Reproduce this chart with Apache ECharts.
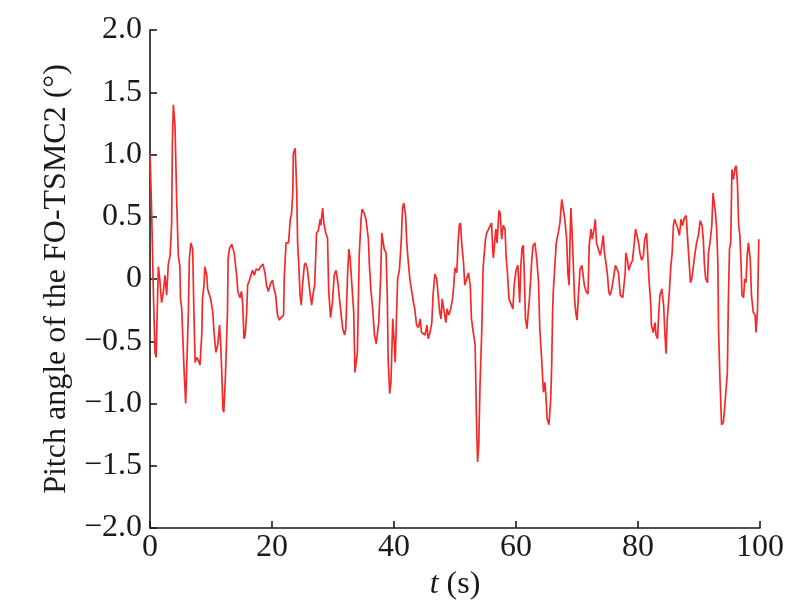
<!DOCTYPE html>
<html><head><meta charset="utf-8">
<script src="https://cdn.jsdelivr.net/npm/echarts@6/dist/echarts.min.js"></script>
<style>html,body{margin:0;padding:0;background:#fff}#c{width:805px;height:608px}</style>
</head><body><div id="c"></div>
<script>
const tSeconds = [0,0.1,0.3,0.55,0.82,1.0,1.37,1.6,1.9,2.2,2.46,2.73,3.0,3.3,3.55,3.66,3.83,4.1,4.37,4.64,4.9,5.0,5.2,5.46,5.6,5.85,6.0,6.3,6.45,6.7,7.0,7.2,7.4,7.65,7.9,8.2,8.5,8.6,8.85,9.0,9.3,9.45,9.67,9.95,10.3,10.5,10.8,11.1,11.4,11.6,11.8,11.96,12.1,12.35,12.7,12.8,13.0,13.4,13.8,14.2,14.4,14.75,15.0,15.2,15.4,15.6,15.85,16.0,16.3,16.55,16.8,17.1,17.4,17.8,18.0,18.5,18.85,19.1,19.4,
19.8,20.1,20.3,20.6,20.9,21.2,21.5,21.9,22.0,22.3,22.7,23.0,23.2,23.4,23.5,23.8,24.05,24.2,24.4,24.6,24.8,25.0,25.3,25.5,25.8,26.1,26.2,26.5,26.8,27.0,27.3,27.6,27.9,28.0,28.3,28.5,28.8,29.1,29.3,29.6,29.9,30.2,30.5,30.8,31.0,31.3,31.6,31.9,32.1,32.4,32.6,32.8,33.1,33.4,33.6,33.9,34.0,34.3,34.6,34.75,35.1,35.4,35.8,35.95,36.2,36.5,36.8,37.1,37.3,37.5,37.8,38.0,38.2,38.4,38.7,38.9,39.05,39.3,39.5,39.8,40.0,40.2,40.4,40.6,40.9,41.2,41.4,41.6,41.9,42.1,42.3,42.6,42.9,43.2,43.4,43.7,44.0,44.3,44.5,44.8,45.1,45.4,45.6,45.9,46.2,46.4,46.7,47.0,47.3,47.5,47.7,47.9,48.2,48.5,48.7,49.0,49.3,49.6,49.8,50.0,50.3,50.5,50.7,50.9,51.1,51.4,51.6,51.9,52.2,52.5,52.7,53.0,53.3,53.5,53.7,53.9,54.1,54.4,54.6,54.8,55.0,55.2,55.5,55.8,56.0,56.2,56.3,56.6,56.7,56.9,57.2,57.4,57.65,57.9,58.2,58.4,58.6,58.85,59.1,59.5,59.7,
60.0,60.3,60.6,60.8,61.0,61.2,61.4,61.55,61.8,62.0,62.2,62.4,62.6,62.8,63.1,63.4,63.7,63.9,64.2,64.5,64.75,64.9,65.1,65.4,65.7,65.85,66.0,66.1,66.4,66.6,66.8,67.0,67.2,67.5,67.8,68.0,68.3,68.5,68.7,68.9,69.0,69.2,69.4,69.6,69.8,70.0,70.2,70.5,70.8,71.0,71.2,71.5,71.8,72.0,72.3,72.5,72.8,73.0,73.2,73.5,73.8,74.0,74.3,74.5,74.8,75.0,75.2,75.4,75.7,76.0,76.3,76.5,76.8,77.1,77.5,77.9,78.0,78.25,78.5,78.8,79.1,79.35,79.6,79.8,80.1,80.3,80.6,80.9,81.1,81.4,81.6,81.8,82.1,82.2,82.5,82.8,82.95,83.2,83.4,83.6,83.9,84.2,84.4,84.6,84.8,85.1,85.4,85.6,85.8,86.0,86.2,86.5,86.8,87.05,87.3,87.6,87.9,88.1,88.35,88.6,88.8,89.1,89.3,89.6,89.9,90.2,90.5,90.7,90.9,91.1,91.4,91.55,91.8,92.1,92.3,92.5,92.7,92.9,93.1,93.2,93.45,93.7,94.0,94.2,94.4,94.65,94.8,95.0,95.2,95.4,95.65,95.9,96.1,96.3,96.5,96.7,96.9,97.05,97.3,97.5,97.7,97.9,98.1,98.4,98.6,98.9,99.2,99.35,99.6,99.8];
const pitchDeg = [1.0,0.85,0.48,-0.1,-0.59,-0.63,0.1,0,-0.19,-0.1,0.03,-0.13,0.12,0.19,0.45,1.07,1.4,1.23,0.64,0.19,0.1,-0.16,-0.24,-0.24,-0.75,-1.0,-0.75,-0.24,0.16,0.29,0.24,-0.27,-0.67,-0.63,-0.65,-0.69,-0.43,-0.16,-0.05,0.1,0.03,-0.08,-0.07,-0.16,-0.27,-0.43,-0.59,-0.53,-0.37,-0.53,-0.8,-1.05,-1.07,-0.8,-0.27,0.16,0.24,0.28,0.21,0.03,-0.1,-0.15,-0.1,-0.21,-0.48,-0.45,-0.27,-0.05,-0.01,0,0.07,0.03,0.08,0.07,0.09,0.12,0.05,-0.05,-0.1,
-0.03,-0.01,-0.07,-0.13,-0.29,-0.33,-0.31,-0.29,0,0.29,0.29,0.48,0.52,0.69,1.01,1.05,0.72,0.29,0.11,-0.13,-0.21,-0.05,0.11,0.13,0.08,0.08,-0.1,-0.21,-0.1,-0.05,0.37,0.39,0.48,0.43,0.57,0.45,0.37,0.33,-0.1,-0.31,-0.19,0.03,0.07,-0.03,-0.13,-0.27,-0.4,-0.45,-0.4,0.05,0.24,0.17,0.17,-0.27,-0.75,-0.75,-0.59,0.19,0.48,0.56,0.53,0.48,0.32,0.13,-0.08,-0.24,-0.45,-0.52,-0.43,-0.35,0,0.37,0.37,0.24,0.21,-0.13,-0.67,-0.92,-0.83,-0.32,-0.48,-0.67,-0.32,0,0.08,0.32,0.57,0.61,0.51,0.29,0.16,0,-0.1,-0.19,-0.24,-0.37,-0.39,-0.32,-0.43,-0.43,-0.45,-0.37,-0.48,-0.43,-0.35,-0.13,0.04,0,0.01,-0.27,-0.32,-0.16,-0.16,-0.35,-0.24,-0.29,-0.24,-0.16,-0.05,0.09,0.05,0.29,0.43,0.45,0.29,0.13,-0.05,0,0.05,-0.05,-0.32,-0.43,-0.53,-1.07,-1.47,-1.33,-0.85,-0.4,0.08,0.21,0.32,0.37,0.4,0.43,0.45,0.21,0.17,0.35,0.4,0.29,0.55,0.53,0.32,0.43,0.4,0.16,0.05,-0.16,-0.17,-0.24,-0.05,
0.07,0.11,-0.19,0.11,0.25,0.27,-0.03,-0.32,-0.4,-0.27,-0.16,0,0.16,0.27,0.29,0.16,-0.03,-0.4,-0.64,-0.91,-0.83,-0.93,-1.12,-1.17,-0.96,-0.69,-0.27,-0.11,0.13,0.29,0.29,0.39,0.45,0.64,0.65,0.48,0.32,0.05,-0.05,0.4,0.57,0.37,0.11,-0.16,-0.27,-0.33,-0.16,0.08,0.11,0.12,-0.05,-0.1,-0.12,0.27,0.4,0.32,0.4,0.48,0.29,0.28,0.19,0.24,0.35,0.21,0.11,0.03,-0.1,-0.13,-0.08,-0.08,0.11,0.11,0.05,-0.13,-0.15,0.05,0.21,0.16,0.07,0.12,0.15,0.27,0.4,0.41,0.29,0.21,0.15,0.19,0.32,0.37,0.19,0,-0.21,-0.37,-0.43,-0.35,-0.45,-0.48,-0.27,-0.13,-0.08,-0.21,-0.43,-0.6,-0.32,-0.13,0.11,0.21,0.43,0.48,0.45,0.41,0.35,0.48,0.43,0.49,0.51,0.35,0.16,-0.03,0,0.11,0.19,0.29,0.35,0.47,0.43,0.32,0.11,0,-0.03,0.21,0.29,0.43,0.69,0.68,0.53,0.4,0.11,-0.4,-0.83,-1.17,-1.15,-1.04,-1.04,-0.75,-0.21,0.24,0.29,0.88,0.8,0.89,0.91,0.77,0.43,0.35,0.11,-0.13,-0.15,0,-0.03,0.19,0.29,0.16,-0.13,-0.27,-0.29,-0.43,-0.24,0.32];
const xTicks = [0,20,40,60,80,100];
const yTicks = [-2.0,-1.5,-1.0,-0.5,0,0.5,1.0,1.5,2.0];

const FONT = '"Liberation Serif", "DejaVu Serif", serif';
const FS = 32;
const chart = echarts.init(document.getElementById('c'), null, {renderer:'canvas'});
const fmtY = v => v === 0 ? '0' : (v < 0 ? '\u2212' : '') + Math.abs(v).toFixed(1);
chart.setOption({
  animation:false,
  backgroundColor:'#fff',
  grid:{left:150, right:45, top:30, bottom:80},
  xAxis:{type:'value', min:xTicks[0], max:xTicks[xTicks.length-1], interval:20,
    axisLine:{onZero:false, lineStyle:{color:'#1a1a1a', width:1.6}},
    axisTick:{inside:true, length:7, lineStyle:{color:'#1a1a1a', width:1.6}},
    splitLine:{show:false},
    axisLabel:{color:'#1a1a1a', fontFamily:FONT, fontSize:FS, margin:4},
    name:'{i|t} (s)', nameLocation:'middle', nameGap:34,
    nameTextStyle:{color:'#1a1a1a', fontFamily:FONT, fontSize:FS,
      rich:{i:{fontStyle:'italic', fontFamily:FONT, fontSize:FS, color:'#1a1a1a'}}}
  },
  yAxis:{type:'value', min:yTicks[0], max:yTicks[yTicks.length-1], interval:0.5,
    axisLine:{onZero:false, lineStyle:{color:'#1a1a1a', width:1.6}},
    axisTick:{inside:true, length:7, lineStyle:{color:'#1a1a1a', width:1.6}},
    splitLine:{show:false},
    axisLabel:{color:'#1a1a1a', fontFamily:FONT, fontSize:FS, margin:8, formatter:fmtY},
    name:'Pitch angle of the FO-TSMC2 (\u00b0)', nameLocation:'middle', nameGap:72, nameRotate:90,
    nameTextStyle:{color:'#1a1a1a', fontFamily:FONT, fontSize:FS}
  },
  series:[{type:'line', data:tSeconds.map((t,i)=>[t,pitchDeg[i]]), showSymbol:false,
    lineStyle:{color:'#f42a2a', width:1.7}, itemStyle:{color:'#f42a2a'}, clip:true}]
});
</script></body></html>
